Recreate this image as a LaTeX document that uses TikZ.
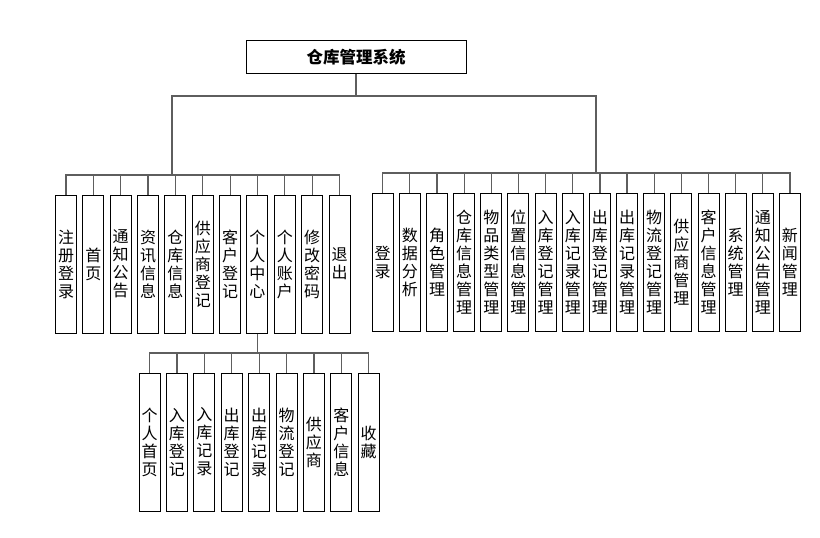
\documentclass[tikz,border=0pt]{standalone}
\usepackage{fontspec}
\newfontfamily\cjk{Noto Sans CJK SC}
\usetikzlibrary{positioning}
\definecolor{clink}{HTML}{5E5E5E}
\tikzset{
  every picture/.style={line width=1pt},
  leaf/.style={draw=black, fill=white, minimum width=21pt, minimum height=138pt, inner sep=0pt, align=center, font=\cjk\fontsize{16}{18}\selectfont},
  link/.style={draw=clink, line width=1.2pt},
  title/.style={draw=black, minimum width=220pt, minimum height=33pt, font=\cjk\bfseries\fontsize{16.5}{18}\selectfont},
}

\begin{document}
\begin{tikzpicture}[x=1pt, y=-1pt]
  \useasboundingbox (0,0) rectangle (820,538);
  \node[title] (root) at (356, 57) {仓库管理系统};
  % front end
  \foreach \txt [count=\i] in {{注\\册\\登\\录}, {首\\页}, {通\\知\\公\\告}, {资\\讯\\信\\息}, {仓\\库\\信\\息}, {供\\应\\商\\登\\记}, {客\\户\\登\\记}, {个\\人\\中\\心}, {个\\人\\账\\户}, {修\\改\\密\\码}, {退\\出}}
    \node[leaf] (l\i) at ({66+27.35*(\i-1)}, 264) {\txt};
  % back end
  \foreach \txt [count=\i] in {{登\\录}, {数\\据\\分\\析}, {角\\色\\管\\理}, {仓\\库\\信\\息\\管\\理}, {物\\品\\类\\型\\管\\理}, {位\\置\\信\\息\\管\\理}, {入\\库\\登\\记\\管\\理}, {入\\库\\记\\录\\管\\理}, {出\\库\\登\\记\\管\\理}, {出\\库\\记\\录\\管\\理}, {物\\流\\登\\记\\管\\理}, {供\\应\\商\\管\\理}, {客\\户\\信\\息\\管\\理}, {系\\统\\管\\理}, {通\\知\\公\\告\\管\\理}, {新\\闻\\管\\理}}
    \node[leaf] (r\i) at ({382.7+27.15*(\i-1)}, 262) {\txt};
  % personal centre
  \foreach \txt [count=\i] in {{个\\人\\首\\页}, {入\\库\\登\\记}, {入\\库\\记\\录}, {出\\库\\登\\记}, {出\\库\\记\\录}, {物\\流\\登\\记}, {供\\应\\商}, {客\\户\\信\\息}, {收\\藏}}
    \node[leaf] (s\i) at ({149.5+27.4*(\i-1)}, 442) {\txt};
  % tree lines
  \coordinate (hub) at (356, 96);
  \coordinate (jL) at (172, 175);
  \coordinate (jR) at (596, 173);
  \coordinate (jS) at (l8.south |- 0, 353);
  \draw[link] (root.south) -- (hub);
  \draw[link] (hub) -| (jL);
  \draw[link] (hub) -| (jR);
  \foreach \i in {1,...,11}
    \draw[link] (jL) -| (l\i.north);
  \foreach \i in {1,...,16}
    \draw[link] (jR) -| (r\i.north);
  \draw[link] (l8.south) -- (jS);
  \foreach \i in {1,...,9}
    \draw[link] (jS) -| (s\i.north);
\end{tikzpicture}
\end{document}
